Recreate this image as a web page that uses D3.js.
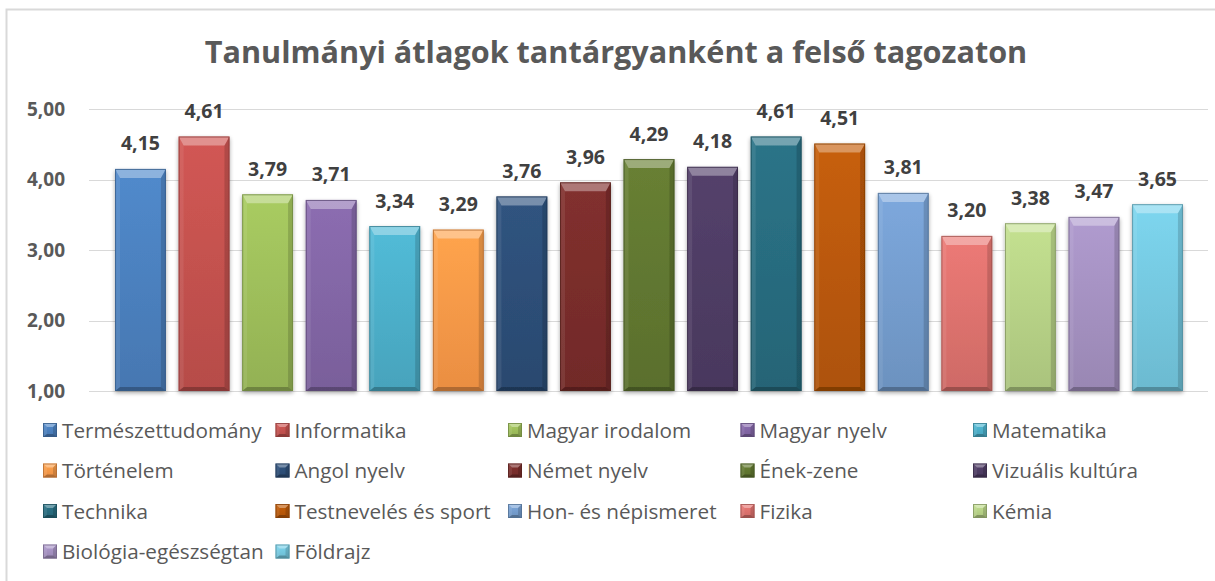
<!DOCTYPE html>
<html>
<head>
<meta charset="utf-8">
<script src="https://cdn.jsdelivr.net/npm/d3@7"></script>
<style>
  html, body { margin: 0; padding: 0; background: #fff; }
  svg { display: block; }
  text { font-family: "Open Sans", Lato, sans-serif; }
</style>
</head>
<body>
<svg id="chart" width="1215" height="581"></svg>
<script>
const title = "Tanulmányi átlagok tantárgyanként a felső tagozaton";
const subjects = ["Természettudomány", "Informatika", "Magyar irodalom", "Magyar nyelv", "Matematika",
  "Történelem", "Angol nyelv", "Német nyelv", "Ének-zene", "Vizuális kultúra",
  "Technika", "Testnevelés és sport", "Hon- és népismeret", "Fizika", "Kémia",
  "Biológia-egészségtan", "Földrajz"];
const averages = [4.15, 4.61, 3.79, 3.71, 3.34, 3.29, 3.76, 3.96, 4.29, 4.18, 4.61, 4.51, 3.81, 3.20, 3.38, 3.47, 3.65];
const colors = ["#4a7ebb", "#c0504d", "#9bbb59", "#8064a2", "#4bacc6",
  "#f79646", "#2c4d75", "#772c2a", "#5f7530", "#4d3b62",
  "#276a7c", "#b65708", "#729aca", "#d9706c", "#b3ce84",
  "#a18ebd", "#72c4db"];
const yTicks = [1, 2, 3, 4, 5];

const svg = d3.select("#chart");
const fmt = v => v.toFixed(2).replace(".", ",");

// frame
svg.append("rect").attr("x", 6.5).attr("y", 9.5).attr("width", 1300).attr("height", 700)
  .attr("fill", "#fff").attr("stroke", "#d9d9d9").attr("stroke-width", 2);

// title
svg.append("text").attr("x", 616).attr("y", 63).attr("text-anchor", "middle")
  .attr("font-size", 30.6).attr("font-weight", "bold").attr("fill", "#595959").text(title);

const y = d3.scaleLinear().domain([1, 5]).range([391, 109]);
const x = d3.scaleBand().domain(subjects).range([108.7, 1189.3]).paddingInner(0.2).paddingOuter(0.1);

// gridlines
const gx0 = 89, gx1 = 1208;
svg.append("g").selectAll("line").data(yTicks).join("line")
  .attr("x1", gx0).attr("x2", gx1)
  .attr("y1", d => Math.round(y(d)) + 0.5).attr("y2", d => Math.round(y(d)) + 0.5)
  .attr("stroke", "#d9d9d9").attr("stroke-width", 1);

// y axis labels
const yAxis = d3.axisLeft(y).tickValues(yTicks).tickFormat(fmt).tickSize(0).tickPadding(0);
const ya = svg.append("g").attr("transform", "translate(65,0)").call(yAxis);
ya.select(".domain").remove();
ya.selectAll("text").attr("font-size", 19).attr("font-weight", "bold").attr("fill", "#595959")
  .attr("font-family", "'Open Sans', sans-serif");

// defs for bevel
const defs = svg.append("defs");
const shadow = defs.append("filter").attr("id", "shadow").attr("x", "-20%").attr("y", "-20%").attr("width", "140%").attr("height", "140%");
shadow.append("feGaussianBlur").attr("in", "SourceAlpha").attr("stdDeviation", 2);
shadow.append("feOffset").attr("dx", 0).attr("dy", 2).attr("result", "b");
shadow.append("feComponentTransfer").append("feFuncA").attr("type", "linear").attr("slope", 0.35);
const fm = shadow.append("feMerge");
fm.append("feMergeNode");
fm.append("feMergeNode").attr("in", "SourceGraphic");

colors.forEach((c, i) => {
  const g = defs.append("linearGradient").attr("id", "g" + i).attr("x1", 0).attr("x2", 0).attr("y1", 0).attr("y2", 1);
  g.append("stop").attr("offset", "0%").attr("stop-color", d3.color(c).brighter(0.25));
  g.append("stop").attr("offset", "100%").attr("stop-color", d3.color(c).darker(0.15));
});

function bevelBar(g, x0, y0, w, h, i, bt, bs, bb) {
  const c = colors[i];
  g.append("rect").attr("x", x0).attr("y", y0).attr("width", w).attr("height", h)
    .attr("fill", `url(#g${i})`);
  g.append("path").attr("d", `M${x0},${y0}L${x0 + w},${y0}L${x0 + w - bs},${y0 + bt}L${x0 + bs},${y0 + bt}Z`)
    .attr("fill", "#fff").attr("opacity", 0.35);
  g.append("path").attr("d", `M${x0},${y0}L${x0 + bs},${y0 + bt}L${x0 + bs},${y0 + h - bb}L${x0},${y0 + h}Z`)
    .attr("fill", "#fff").attr("opacity", 0.08);
  g.append("path").attr("d", `M${x0 + w},${y0}L${x0 + w - bs},${y0 + bt}L${x0 + w - bs},${y0 + h - bb}L${x0 + w},${y0 + h}Z`)
    .attr("fill", "#000").attr("opacity", 0.15);
  g.append("path").attr("d", `M${x0},${y0 + h}L${x0 + bs},${y0 + h - bb}L${x0 + w - bs},${y0 + h - bb}L${x0 + w},${y0 + h}Z`)
    .attr("fill", "#000").attr("opacity", 0.25);
  g.append("rect").attr("x", x0 + 0.5).attr("y", y0 + 0.5).attr("width", w - 1).attr("height", h - 1)
    .attr("fill", "none").attr("stroke", d3.color(c).darker(0.9)).attr("stroke-width", 1).attr("opacity", 0.8);
}

// bars
const bars = svg.append("g");
subjects.forEach((s, i) => {
  const g = bars.append("g").attr("filter", "url(#shadow)");
  const x0 = x(s), w = x.bandwidth();
  const y0 = y(averages[i]), h = y(1) - y0;
  bevelBar(g, x0, y0, w, h, i, 9, 5, 4);
});

// data labels
svg.append("g").selectAll("text").data(averages).join("text")
  .attr("x", (d, i) => x(subjects[i]) + x.bandwidth() / 2)
  .attr("y", d => y(d) - 18.5)
  .attr("text-anchor", "middle")
  .attr("font-size", 19.5).attr("font-weight", "bold").attr("fill", "#404040")
  .text(fmt);

// legend
const lx0 = 43, lstep = 232.5, ly0 = 430, lrow = 40.5;
const leg = svg.append("g");
subjects.forEach((s, i) => {
  const col = i % 5, row = Math.floor(i / 5);
  const lx = lx0 + col * lstep, ly = ly0 + row * lrow;
  const g = leg.append("g");
  bevelBar(g, lx, ly - 7, 14, 14, i, 4, 4, 3);
  g.append("text").attr("x", lx + 19).attr("y", ly + 7.5).attr("font-size", 20.7).attr("fill", "#595959").text(s);
});
</script>
</body>
</html>
